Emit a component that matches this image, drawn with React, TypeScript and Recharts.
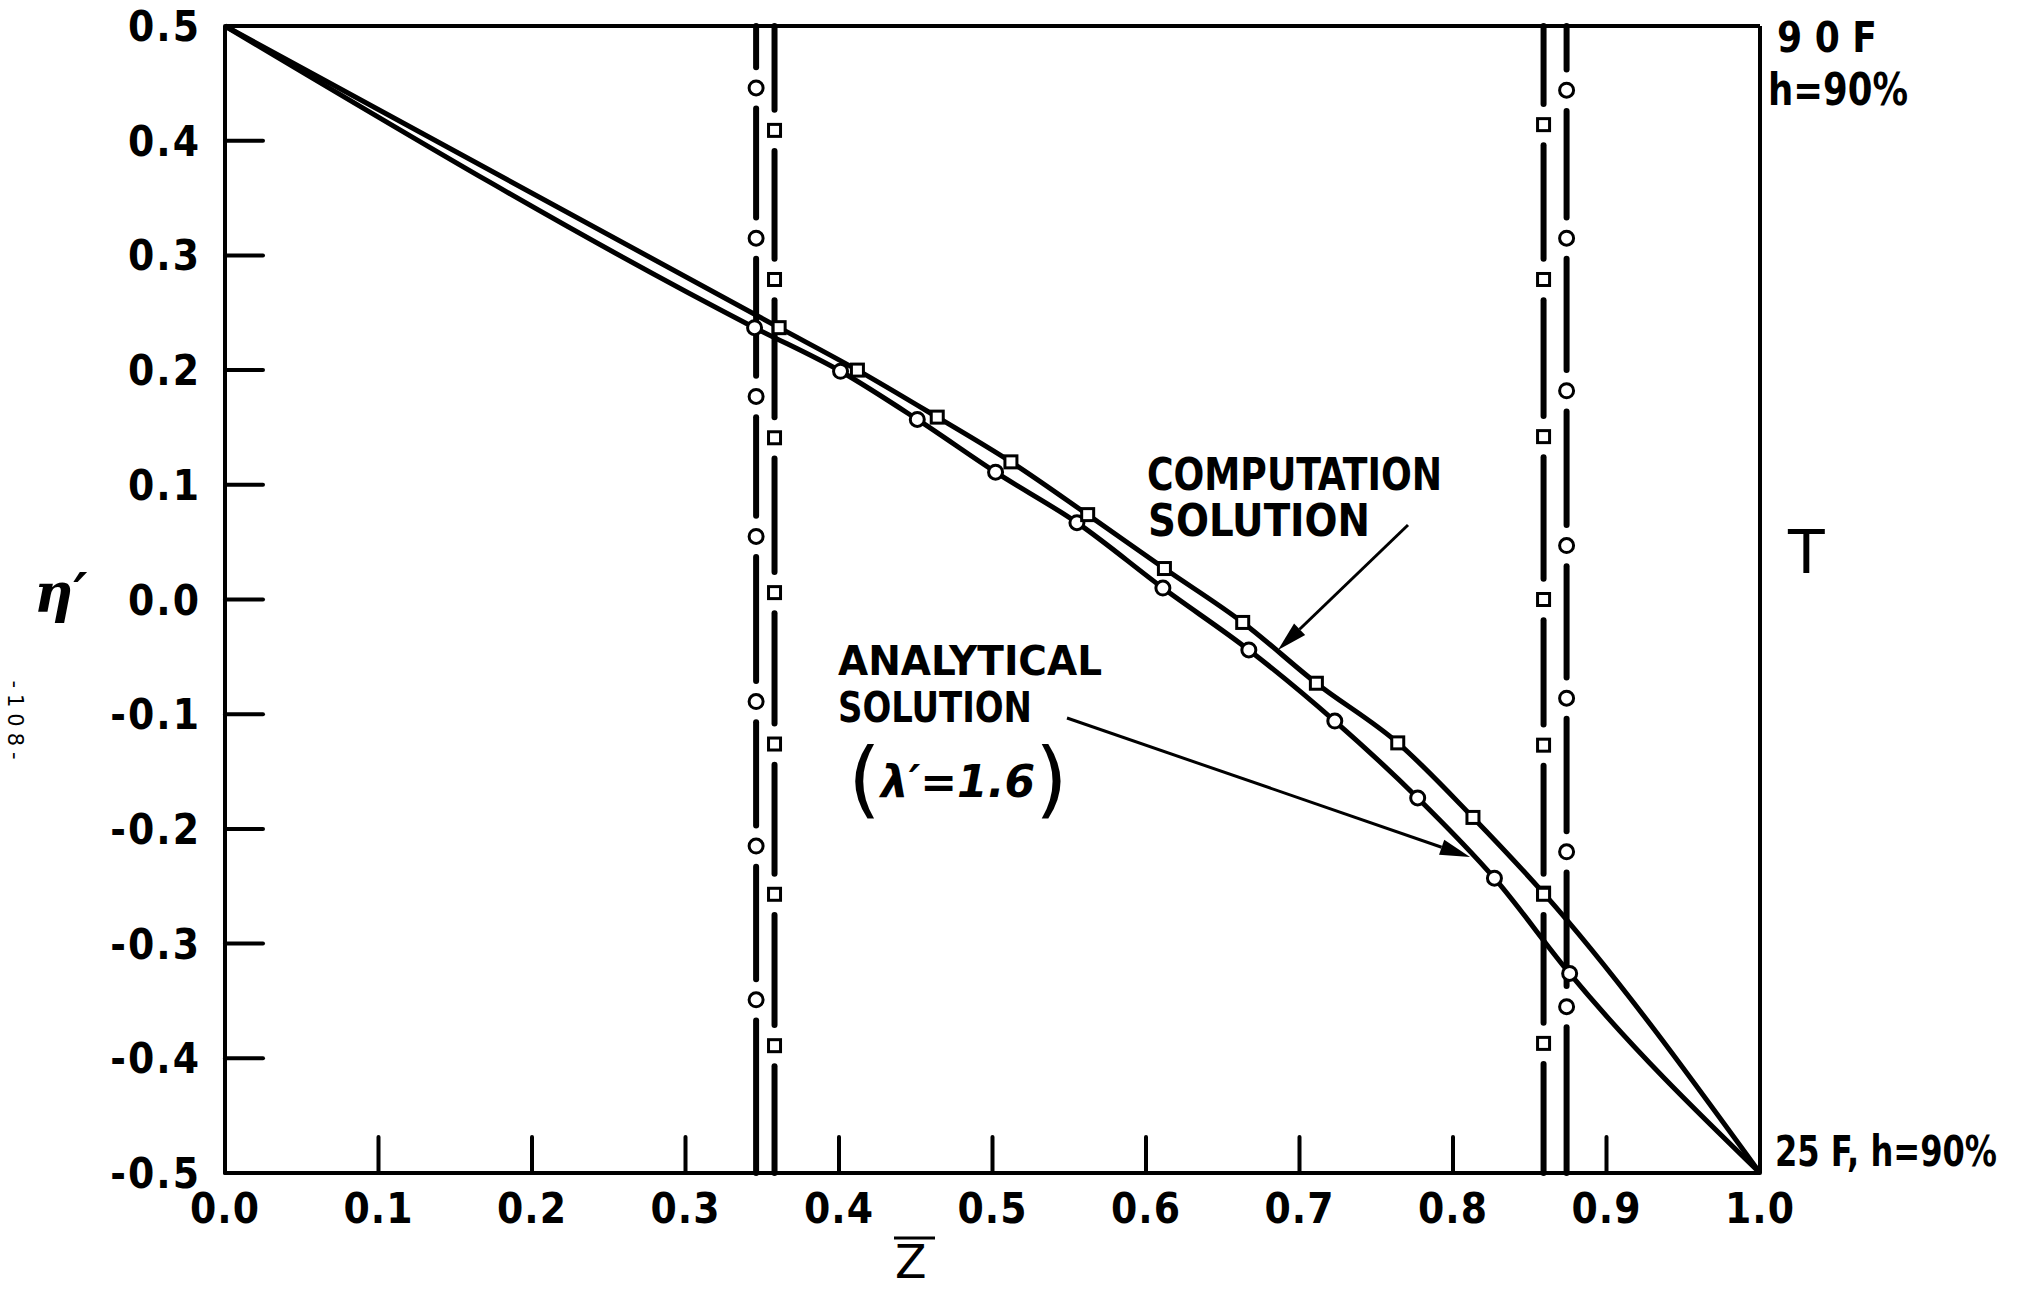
import { ComposedChart, Line, Scatter, XAxis, YAxis, ReferenceLine } from 'recharts';

const W = 2032;
const H = 1291;

const xTicks = [0, 0.1, 0.2, 0.3, 0.4, 0.5, 0.6, 0.7, 0.8, 0.9, 1.0];
const yTicks = [0.5, 0.4, 0.3, 0.2, 0.1, 0, -0.1, -0.2, -0.3, -0.4, -0.5];

// boundary values shared by both curves
const startPoint = { z: 0, eta: 0.5 };
const endPoint = { z: 1, eta: -0.5 };

// analytical solution (circles)
const analyticalPoints = [
  { z: 0.345, eta: 0.237 },
  { z: 0.401, eta: 0.199 },
  { z: 0.451, eta: 0.157 },
  { z: 0.502, eta: 0.111 },
  { z: 0.555, eta: 0.067 },
  { z: 0.611, eta: 0.01 },
  { z: 0.667, eta: -0.044 },
  { z: 0.723, eta: -0.106 },
  { z: 0.777, eta: -0.173 },
  { z: 0.827, eta: -0.243 },
  { z: 0.876, eta: -0.326 },
];

// computation solution (squares)
const computationPoints = [
  { z: 0.361, eta: 0.237 },
  { z: 0.412, eta: 0.2 },
  { z: 0.464, eta: 0.159 },
  { z: 0.512, eta: 0.12 },
  { z: 0.562, eta: 0.074 },
  { z: 0.612, eta: 0.027 },
  { z: 0.663, eta: -0.02 },
  { z: 0.711, eta: -0.073 },
  { z: 0.764, eta: -0.125 },
  { z: 0.813, eta: -0.19 },
  { z: 0.859, eta: -0.256 },
];

// the four dash-dot station lines and the markers that sit in their gaps
const leftCircleZ = 0.346;
const leftCircleEtas = [0.446, 0.315, 0.177, 0.055, -0.089, -0.215, -0.349];
const leftSquareZ = 0.358;
const leftSquareEtas = [0.409, 0.279, 0.141, 0.006, -0.126, -0.257, -0.389];
const rightSquareZ = 0.859;
const rightSquareEtas = [0.414, 0.279, 0.142, 0.0, -0.127, -0.257, -0.387];
const rightCircleZ = 0.874;
const rightCircleEtas = [0.444, 0.315, 0.182, 0.047, -0.086, -0.22, -0.355];

const GAP = 0.018;

function stationSegments(z: number, etas: number[]) {
  const segs: { a: number; b: number }[] = [];
  let top = 0.5;
  etas.forEach((e) => {
    segs.push({ a: top, b: e + GAP });
    top = e - GAP;
  });
  segs.push({ a: top, b: -0.5 });
  return segs.map((s) => ({ z, ...s }));
}

const stations = [
  ...stationSegments(leftCircleZ, leftCircleEtas),
  ...stationSegments(leftSquareZ, leftSquareEtas),
  ...stationSegments(rightSquareZ, rightSquareEtas),
  ...stationSegments(rightCircleZ, rightCircleEtas),
];

const circleMarks = [
  ...analyticalPoints,
  ...leftCircleEtas.map((eta) => ({ z: leftCircleZ, eta })),
  ...rightCircleEtas.map((eta) => ({ z: rightCircleZ, eta })),
];
const squareMarks = [
  ...computationPoints,
  ...leftSquareEtas.map((eta) => ({ z: leftSquareZ, eta })),
  ...rightSquareEtas.map((eta) => ({ z: rightSquareZ, eta })),
];

const INK = '#000';
const tickFont = { fontFamily: 'DejaVu Sans Condensed', fontWeight: 700, fontSize: 42, fill: INK };
const letterFont = { fontFamily: 'DejaVu Sans Condensed', fontWeight: 700, fill: INK };

const fmt = (v: number) => v.toFixed(1);

function XTick(props: any) {
  const { x, y, payload } = props;
  return (
    <g>
      <line x1={x} x2={x} y1={y} y2={y - 36} stroke={INK} strokeWidth={4} strokeLinecap="round" />
      <text x={x} y={y + 50} textAnchor="middle" letterSpacing={1} {...tickFont}>
        {fmt(payload.value)}
      </text>
    </g>
  );
}

function YTick(props: any) {
  const { x, y, payload } = props;
  return (
    <g>
      <line x1={x} x2={x + 38} y1={y} y2={y} stroke={INK} strokeWidth={4} strokeLinecap="round" />
      <text x={x - 24} y={y + 15} textAnchor="end" letterSpacing={2} {...tickFont}>
        {fmt(payload.value)}
      </text>
    </g>
  );
}

function CircleMark(props: any) {
  const { cx, cy } = props;
  return <circle cx={cx} cy={cy} r={7} fill="#fff" stroke={INK} strokeWidth={3} />;
}

function SquareMark(props: any) {
  const { cx, cy } = props;
  return <rect x={cx - 6} y={cy - 6} width={12} height={12} fill="#fff" stroke={INK} strokeWidth={3} />;
}

function Arrow({ x1, y1, x2, y2 }: { x1: number; y1: number; x2: number; y2: number }) {
  const a = Math.atan2(y2 - y1, x2 - x1);
  const len = 30;
  const w = 8;
  const bx = x2 - len * Math.cos(a);
  const by = y2 - len * Math.sin(a);
  const px = -Math.sin(a) * w;
  const py = Math.cos(a) * w;
  return (
    <g>
      <line x1={x1} y1={y1} x2={bx} y2={by} stroke={INK} strokeWidth={3} />
      <polygon points={`${x2},${y2} ${bx + px},${by + py} ${bx - px},${by - py}`} fill={INK} />
    </g>
  );
}

export default function App() {
  return (
    <div style={{ position: 'absolute', left: 0, top: 0, width: W, height: H, background: '#fff' }}>
      <ComposedChart width={W} height={H} margin={{ top: 26, right: 272, bottom: 58, left: 125 }}>
        <XAxis
          type="number"
          dataKey="z"
          domain={[0, 1]}
          ticks={xTicks}
          height={60}
          axisLine={{ stroke: INK, strokeWidth: 4 }}
          tickLine={false}
          tickSize={0}
          tickMargin={0}
          tick={(p: any) => <XTick {...p} />}
          interval={0}
        />
        <YAxis
          type="number"
          dataKey="eta"
          domain={[-0.5, 0.5]}
          ticks={yTicks}
          width={100}
          axisLine={{ stroke: INK, strokeWidth: 4 }}
          tickLine={false}
          tickSize={0}
          tickMargin={0}
          tick={(p: any) => <YTick {...p} />}
          interval={0}
        />
        <ReferenceLine y={0.5} stroke={INK} strokeWidth={4} />
        <ReferenceLine x={1} stroke={INK} strokeWidth={4} />
        {stations.map((s, i) => (
          <ReferenceLine
            key={`st-${i}`}
            segment={[
              { x: s.z, y: s.a },
              { x: s.z, y: s.b },
            ]}
            stroke={INK}
            strokeWidth={6}
            strokeLinecap="round"
          />
        ))}
        <Line
          data={[startPoint, ...computationPoints, endPoint]}
          dataKey="eta"
          type="monotone"
          stroke={INK}
          strokeWidth={5}
          dot={false}
          activeDot={false}
          isAnimationActive={false}
        />
        <Line
          data={[startPoint, ...analyticalPoints, endPoint]}
          dataKey="eta"
          type="monotone"
          stroke={INK}
          strokeWidth={5}
          dot={false}
          activeDot={false}
          isAnimationActive={false}
        />
        <Scatter data={circleMarks} dataKey="eta" shape={(p: any) => <CircleMark {...p} />} isAnimationActive={false} />
        <Scatter data={squareMarks} dataKey="eta" shape={(p: any) => <SquareMark {...p} />} isAnimationActive={false} />
      </ComposedChart>

      <svg width={W} height={H} style={{ position: 'absolute', left: 0, top: 0, pointerEvents: 'none' }}>
        <text x={34} y={612} fontFamily="DejaVu Serif" fontStyle="italic" fontWeight={700} fontSize={54} fill={INK}>
          η′
        </text>
        <text
          x={14}
          y={723}
          transform="rotate(90, 14, 723)"
          textAnchor="middle"
          dominantBaseline="middle"
          fontFamily="DejaVu Sans"
          fontSize={21}
          letterSpacing={6}
          fill={INK}
        >
          -108-
        </text>
        <text x={895} y={1278} fontFamily="DejaVu Sans" fontSize={46} fill={INK}>
          Z
        </text>
        <line x1={894} x2={935} y1={1238} y2={1238} stroke={INK} strokeWidth={3} />
        <text x={1788} y={573} fontFamily="DejaVu Sans" fontSize={60} fill={INK}>
          T
        </text>

        <text x={1777} y={52} fontSize={42} textLength={100} lengthAdjust="spacingAndGlyphs" {...letterFont}>
          9 0 F
        </text>
        <text x={1768} y={105} fontSize={44} textLength={140} lengthAdjust="spacingAndGlyphs" {...letterFont}>
          h=90%
        </text>
        <text x={1775} y={1166} fontSize={42} textLength={222} lengthAdjust="spacingAndGlyphs" {...letterFont}>
          25 F, h=90%
        </text>

        <text x={1147} y={490} fontSize={44} textLength={295} lengthAdjust="spacingAndGlyphs" {...letterFont}>
          COMPUTATION
        </text>
        <text x={1148} y={536} fontSize={44} textLength={222} lengthAdjust="spacingAndGlyphs" {...letterFont}>
          SOLUTION
        </text>
        <Arrow x1={1408} y1={525} x2={1278} y2={650} />

        <text x={838} y={675} fontSize={41} textLength={264} lengthAdjust="spacingAndGlyphs" {...letterFont}>
          ANALYTICAL
        </text>
        <text x={838} y={722} fontSize={42} textLength={194} lengthAdjust="spacingAndGlyphs" {...letterFont}>
          SOLUTION
        </text>
        <text x={848} y={808} fontFamily="DejaVu Sans" fill={INK}>
          <tspan fontSize={84}>(</tspan>
          <tspan fontSize={44} fontStyle="italic" fontWeight={700} dy={-11}>
            λ′=1.6
          </tspan>
          <tspan fontSize={84} dy={11}>)</tspan>
        </text>
        <Arrow x1={1067} y1={718} x2={1470} y2={857} />
      </svg>
    </div>
  );
}
